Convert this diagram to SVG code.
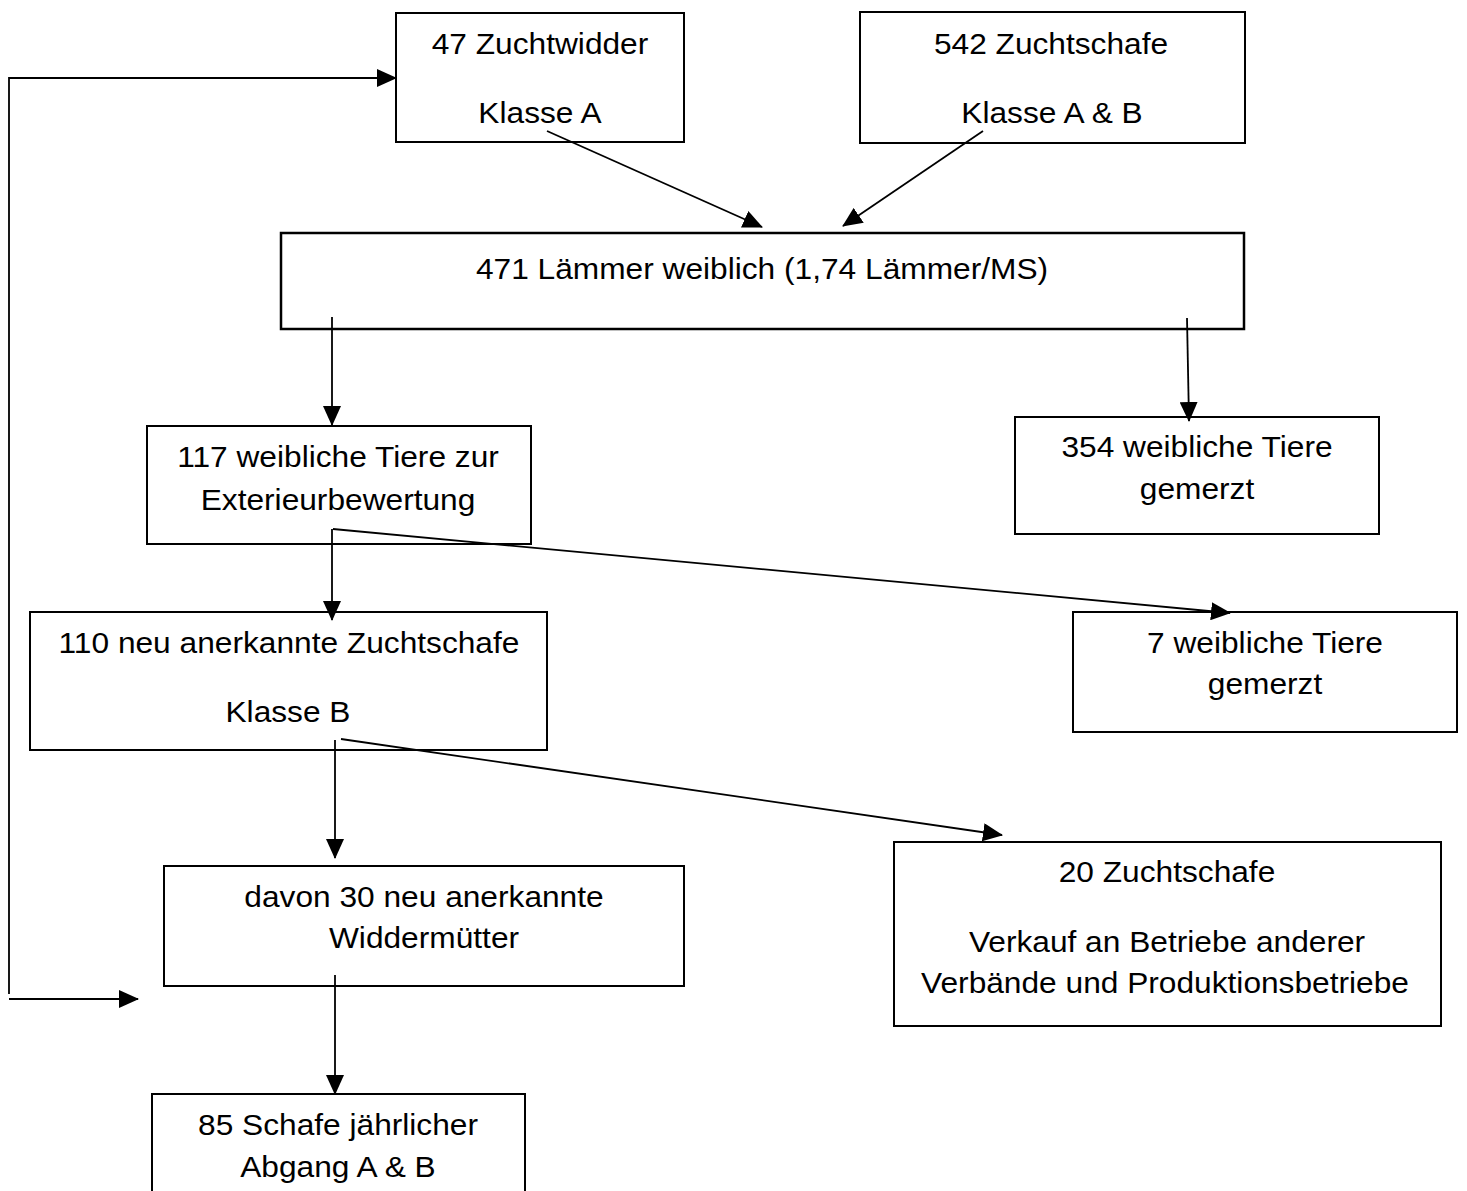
<svg xmlns="http://www.w3.org/2000/svg" width="1467" height="1191" viewBox="0 0 1467 1191">
<style>
.box{fill:#fff;stroke:#000;stroke-width:2}
.t{font-family:"Liberation Sans",Arial,sans-serif;font-size:29px;fill:#000;text-anchor:middle}
.c{fill:none;stroke:#000;stroke-width:1.8}
</style>
<defs>
<marker id="ah" markerUnits="userSpaceOnUse" viewBox="0 0 20 18" markerWidth="20" markerHeight="18" refX="19" refY="9" orient="auto">
<path d="M0,0 L20,9 L0,18 z" fill="#000"/>
</marker>
</defs>
<rect width="1467" height="1191" fill="#fff"/>
<g id="n1">
<rect class="box" x="396" y="13" width="288" height="129"/>
<text class="t" x="0" y="54" transform="translate(540 0) scale(1.093 1)">47 Zuchtwidder</text>
<text class="t" x="0" y="123" transform="translate(540 0) scale(1.093 1)">Klasse A</text>
</g>
<g id="n2">
<rect class="box" x="860" y="12" width="385" height="131"/>
<text class="t" x="0" y="54" transform="translate(1051 0) scale(1.093 1)">542 Zuchtschafe</text>
<text class="t" x="0" y="123" transform="translate(1052 0) scale(1.093 1)">Klasse A &amp; B</text>
</g>
<g id="n3">
<rect class="box" x="281" y="233" width="963" height="96" style="stroke-width:2.5"/>
<text class="t" x="0" y="279" transform="translate(762 0) scale(1.093 1)">471 Lämmer weiblich (1,74 Lämmer/MS)</text>
</g>
<g id="n4">
<rect class="box" x="147" y="426" width="384" height="118"/>
<text class="t" x="0" y="467" transform="translate(338 0) scale(1.093 1)">117 weibliche Tiere zur</text>
<text class="t" x="0" y="510" transform="translate(338 0) scale(1.093 1)">Exterieurbewertung</text>
</g>
<g id="n5">
<rect class="box" x="1015" y="417" width="364" height="117"/>
<text class="t" x="0" y="457" transform="translate(1197 0) scale(1.093 1)">354 weibliche Tiere</text>
<text class="t" x="0" y="499" transform="translate(1197 0) scale(1.093 1)">gemerzt</text>
</g>
<g id="n6">
<rect class="box" x="1073" y="612" width="384" height="120"/>
<text class="t" x="0" y="653" transform="translate(1265 0) scale(1.093 1)">7 weibliche Tiere</text>
<text class="t" x="0" y="694" transform="translate(1265 0) scale(1.093 1)">gemerzt</text>
</g>
<g id="n7">
<rect class="box" x="30" y="612" width="517" height="138"/>
<text class="t" x="0" y="653" transform="translate(289 0) scale(1.093 1)">110 neu anerkannte Zuchtschafe</text>
<text class="t" x="0" y="722" transform="translate(288 0) scale(1.093 1)">Klasse B</text>
</g>
<g id="n8">
<rect class="box" x="164" y="866" width="520" height="120"/>
<text class="t" x="0" y="907" transform="translate(424 0) scale(1.093 1)">davon 30 neu anerkannte</text>
<text class="t" x="0" y="948" transform="translate(424 0) scale(1.093 1)">Widdermütter</text>
</g>
<g id="n9">
<rect class="box" x="894" y="842" width="547" height="184"/>
<text class="t" x="0" y="882" transform="translate(1167 0) scale(1.093 1)">20 Zuchtschafe</text>
<text class="t" x="0" y="952" transform="translate(1167 0) scale(1.093 1)">Verkauf an Betriebe anderer</text>
<text class="t" x="0" y="993" transform="translate(1165 0) scale(1.093 1)">Verbände und Produktionsbetriebe</text>
</g>
<g id="n10">
<rect class="box" x="152" y="1094" width="373" height="120"/>
<text class="t" x="0" y="1135" transform="translate(338 0) scale(1.093 1)">85 Schafe jährlicher</text>
<text class="t" x="0" y="1177" transform="translate(338 0) scale(1.093 1)">Abgang A &amp; B</text>
</g>
<g id="connectors">
<line class="c" x1="547" y1="131" x2="762" y2="227" marker-end="url(#ah)"/>
<line class="c" x1="983" y1="131" x2="843" y2="226" marker-end="url(#ah)"/>
<line class="c" x1="332" y1="317" x2="332" y2="425" marker-end="url(#ah)"/>
<line class="c" x1="1187" y1="318" x2="1189" y2="421" marker-end="url(#ah)"/>
<line class="c" x1="332" y1="529" x2="332" y2="620" marker-end="url(#ah)"/>
<line class="c" x1="333" y1="529" x2="1230" y2="613" marker-end="url(#ah)"/>
<line class="c" x1="335" y1="740" x2="335" y2="858" marker-end="url(#ah)"/>
<line class="c" x1="341" y1="739" x2="1002" y2="835" marker-end="url(#ah)"/>
<line class="c" x1="335" y1="975" x2="335" y2="1094" marker-end="url(#ah)"/>
<polyline class="c" points="9,994 9,78 396,78" marker-end="url(#ah)"/>
<line class="c" x1="9" y1="999" x2="138" y2="999" marker-end="url(#ah)"/>
</g>
</svg>
